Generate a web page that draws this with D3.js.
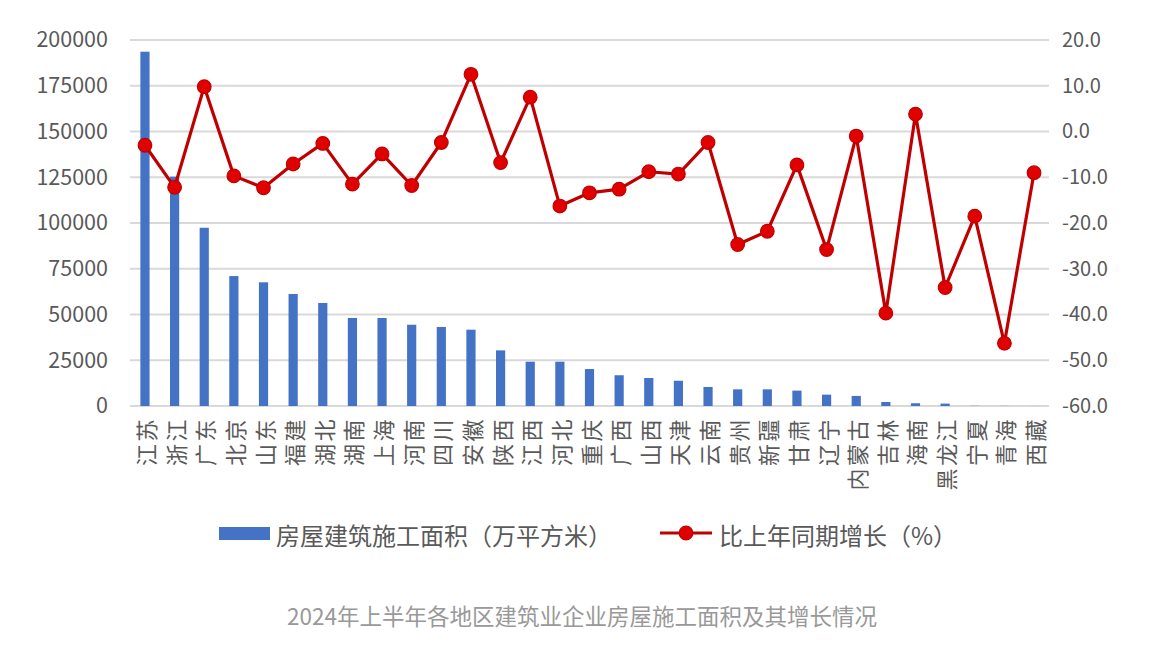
<!DOCTYPE html>
<html><head><meta charset="utf-8">
<script src="https://cdn.jsdelivr.net/npm/d3@7"></script>
<style>
html,body{margin:0;padding:0;background:#fff;}
text{font-family:"Noto Sans CJK SC","Noto Sans",sans-serif;}
</style></head>
<body><svg id="c" width="1170" height="645"></svg>
<script>
const categories = ["江苏","浙江","广东","北京","山东","福建","湖北","湖南","上海","河南","四川","安徽","陕西","江西","河北","重庆","广西","山西","天津","云南","贵州","新疆","甘肃","辽宁","内蒙古","吉林","海南","黑龙江","宁夏","青海","西藏"];
const areaValues = [193600,125300,97400,71000,67600,61200,56300,48100,48100,44400,43200,41700,30400,24200,24200,20200,16800,15300,13800,10400,9100,9100,8400,6200,5500,2200,1500,1300,100,60,30];
const growthValues = [-3.0,-12.2,9.8,-9.7,-12.3,-7.1,-2.6,-11.5,-4.9,-11.8,-2.4,12.5,-6.8,7.5,-16.3,-13.4,-12.6,-8.8,-9.3,-2.4,-24.7,-21.8,-7.3,-25.8,-1.0,-39.7,3.8,-34.1,-18.5,-46.3,-9.0];
const leftTicks = [0,25000,50000,75000,100000,125000,150000,175000,200000];
const rightTicks = [20,10,0,-10,-20,-30,-40,-50,-60];
const seriesNames = ["房屋建筑施工面积（万平方米）","比上年同期增长（%）"];
const title = "2024年上半年各地区建筑业企业房屋施工面积及其增长情况";

const svg = d3.select("#c");
svg.append("rect").attr("width",1170).attr("height",645).attr("fill","#fff");
const L=130, R=1049, T=40, B=406;
const x = d3.scaleBand().domain(categories).range([L,R]).paddingInner(0.69).paddingOuter(0.35);
const xc = d => x(d)+x.bandwidth()/2;
const yL = d3.scaleLinear().domain([0,200000]).range([B,T]);
const yR = d3.scaleLinear().domain([-60,20]).range([B,T]);

// gridlines
svg.append("g").selectAll("line").data(leftTicks).join("line")
  .attr("x1",L).attr("x2",R).attr("y1",d=>yL(d)).attr("y2",d=>yL(d))
  .attr("stroke","#d9d9d9").attr("stroke-width",2);

// left axis
const gl = svg.append("g").attr("transform",`translate(${L},0)`)
  .call(d3.axisLeft(yL).tickValues(leftTicks).tickFormat(d3.format("d")).tickSize(0).tickPadding(22));
gl.select(".domain").remove();
gl.selectAll("text").attr("font-size",21.5).attr("fill","#595959").attr("font-family","'Noto Sans',sans-serif");

// right axis
const gr = svg.append("g").attr("transform",`translate(${R},0)`)
  .call(d3.axisRight(yR).tickValues(rightTicks).tickFormat(d3.format(".1f")).tickSize(0).tickPadding(13));
gr.select(".domain").remove();
gr.selectAll("text").attr("font-size",20).attr("fill","#595959").attr("font-family","'Noto Sans',sans-serif")
  .text(d=>d3.format(".1f")(d).replace("−","-"));

// bars
svg.append("g").selectAll("rect").data(categories).join("rect")
  .attr("x",d=>x(d)).attr("width",x.bandwidth())
  .attr("y",(d,i)=>yL(areaValues[i])).attr("height",(d,i)=>B-yL(areaValues[i]))
  .attr("fill","#4472c4");

// category labels (rotated)
svg.append("g").selectAll("text").data(categories).join("text")
  .attr("transform",d=>`translate(${xc(d)},417) rotate(-90)`)
  .attr("text-anchor","end").attr("dominant-baseline","central")
  .attr("font-size",22).attr("letter-spacing","2.5px").attr("fill","#595959")
  .text(d=>d);

// line
const line = d3.line().x((d,i)=>xc(categories[i])).y(d=>yR(d));
svg.append("path").datum(growthValues).attr("d",line)
  .attr("fill","none").attr("stroke","#c00000").attr("stroke-width",3.2).attr("stroke-linejoin","round");
svg.append("g").selectAll("circle").data(growthValues).join("circle")
  .attr("cx",(d,i)=>xc(categories[i])).attr("cy",d=>yR(d)).attr("r",6.8)
  .attr("fill","#e00000").attr("stroke","#c00000").attr("stroke-width",1.2);

// legend
const lg = svg.append("g");
lg.append("rect").attr("x",219).attr("y",527).attr("width",51).attr("height",13).attr("fill","#4472c4");
lg.append("text").attr("x",276).attr("y",534).attr("dominant-baseline","central")
  .attr("font-size",24).attr("fill","#595959").text(seriesNames[0]);
lg.append("line").attr("x1",660).attr("x2",712).attr("y1",533).attr("y2",533).attr("stroke","#c00000").attr("stroke-width",3.2);
lg.append("circle").attr("cx",686).attr("cy",533).attr("r",6.8).attr("fill","#e00000").attr("stroke","#c00000").attr("stroke-width",1.2);
lg.append("text").attr("x",719).attr("y",534).attr("dominant-baseline","central")
  .attr("font-size",24).attr("fill","#595959").text(seriesNames[1]);

// title
svg.append("text").attr("x",582).attr("y",615).attr("text-anchor","middle").attr("dominant-baseline","central")
  .attr("font-size",22.5).attr("fill","#999").text(title);
</script></body></html>
